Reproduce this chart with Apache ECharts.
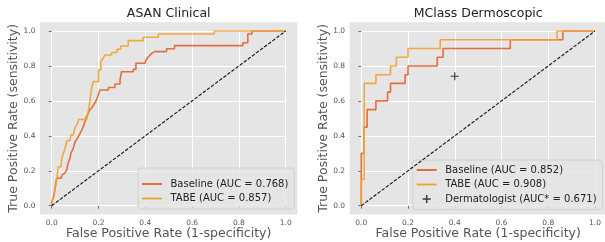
<!DOCTYPE html>
<html>
<head>
<meta charset="utf-8">
<script src="https://cdn.jsdelivr.net/npm/echarts@6/dist/echarts.min.js"></script>
<style>
html, body { margin: 0; padding: 0; background: #fff; }
#main { width: 605px; height: 242px; }
</style>
</head>
<body>
<div id="main"></div>
<script>
// ROC points (FPR, TPR)
var asanBaseline = [
  [0, 0], [0, 0.02], [0.008, 0.05], [0.011, 0.07], [0.015, 0.11], [0.021, 0.157], [0.04, 0.157],
  [0.045, 0.176], [0.055, 0.185], [0.064, 0.204], [0.07, 0.243], [0.078, 0.271], [0.082, 0.3],
  [0.092, 0.328], [0.1, 0.366], [0.114, 0.395], [0.125, 0.424], [0.135, 0.452], [0.142, 0.48],
  [0.148, 0.51], [0.157, 0.53], [0.163, 0.55], [0.172, 0.56], [0.178, 0.576], [0.188, 0.595],
  [0.196, 0.624], [0.206, 0.662], [0.242, 0.662], [0.242, 0.677], [0.27, 0.677], [0.27, 0.697],
  [0.292, 0.697], [0.292, 0.72], [0.298, 0.767], [0.349, 0.767], [0.349, 0.781], [0.36, 0.781],
  [0.36, 0.815], [0.399, 0.815], [0.403, 0.835], [0.412, 0.85], [0.42, 0.855], [0.427, 0.872],
  [0.441, 0.882], [0.491, 0.882], [0.491, 0.898], [0.525, 0.898], [0.525, 0.916], [0.817, 0.916],
  [0.817, 0.933], [0.838, 0.933], [0.838, 0.983], [0.856, 0.983], [0.856, 1.0], [1.0, 1.0]
];
var asanTabe = [
  [0, 0], [0, 0.02], [0.01, 0.06], [0.015, 0.1], [0.021, 0.147], [0.025, 0.19], [0.028, 0.223],
  [0.04, 0.223], [0.043, 0.271], [0.05, 0.3], [0.055, 0.319], [0.062, 0.33], [0.065, 0.372],
  [0.078, 0.372], [0.082, 0.405], [0.092, 0.405], [0.1, 0.449], [0.11, 0.47], [0.115, 0.494],
  [0.15, 0.494], [0.155, 0.53], [0.16, 0.57], [0.164, 0.605], [0.168, 0.65], [0.172, 0.681],
  [0.178, 0.71], [0.2, 0.71], [0.2, 0.777], [0.21, 0.777], [0.21, 0.824], [0.218, 0.835],
  [0.228, 0.863], [0.256, 0.863], [0.256, 0.877], [0.278, 0.877], [0.28, 0.895], [0.295, 0.895],
  [0.295, 0.914], [0.327, 0.914], [0.327, 0.945], [0.391, 0.945], [0.391, 0.964], [0.456, 0.964],
  [0.456, 0.983], [0.695, 0.983], [0.695, 1.0], [1.0, 1.0]
];
var mclassBaseline = [
  [0, 0], [0, 0.3], [0.0125, 0.3], [0.0125, 0.45], [0.025, 0.45], [0.025, 0.55], [0.0625, 0.55],
  [0.0625, 0.6], [0.1125, 0.6], [0.1125, 0.65], [0.125, 0.65], [0.125, 0.7], [0.1875, 0.7],
  [0.1875, 0.75], [0.2, 0.75], [0.2, 0.8], [0.325, 0.8], [0.325, 0.85], [0.35, 0.85], [0.35, 0.9],
  [0.6375, 0.9], [0.6375, 0.95], [0.8625, 0.95], [0.8625, 1], [1, 1]
];
var mclassTabe = [
  [0, 0], [0, 0.15], [0.0125, 0.15], [0.0125, 0.7], [0.0625, 0.7], [0.0625, 0.75], [0.125, 0.75],
  [0.125, 0.8], [0.15, 0.8], [0.15, 0.85], [0.2, 0.85], [0.2, 0.9], [0.3375, 0.9], [0.3375, 0.95],
  [0.8375, 0.95], [0.8375, 1], [1, 1]
];
var dermatologist = [[0.4, 0.741]];
var chance = [[0, 0], [1, 1]];

var titles = ['ASAN Clinical', 'MClass Dermoscopic'];
var namesAsan = ['Baseline (AUC = 0.768)', 'TABE (AUC = 0.857)'];
var namesMclass = ['Baseline (AUC = 0.852)', 'TABE (AUC = 0.908)', 'Dermatologist (AUC* = 0.671)'];
var xTitle = 'False Positive Rate (1-specificity)';
var yTitle = 'True Positive Rate (sensitivity)';

var colBase = '#e2612b';
var colTabe = '#f1a22c';
var font = 'DejaVu Sans';

// plot boxes: value 0..1 region, background padded by 5%
var grids = [
  { left: 51.7, top: 31, width: 234, height: 174.7 },
  { left: 361.3, top: 31, width: 233.7, height: 174.7 }
];
var yNameX = [13.6, 323.6];

var lineIcon = 'path://M0,0M20,12M0,5.1h20v1.8h-20z';
var plusIcon = 'path://M0,0M20,12M6,5.25h8v1.5h-8zM9.25,2h1.5v8h-1.5z';
var plusSymbol = 'path://M0,4.25h10v1.5h-10zM4.25,0h1.5v10h-1.5z';

function labelFmt(v) { return v.toFixed(1); }

function xAxis(i) {
  var g = grids[i];
  return {
    type: 'value', gridIndex: i, min: 0, max: 1, interval: 0.2,
    offset: g.height * 0.05,
    axisLine: { show: false },
    axisTick: { show: true, length: 3, lineStyle: { color: '#555', width: 0.8 } },
    axisLabel: { fontSize: 7.5, color: '#555', margin: 4.5, formatter: labelFmt },
    splitLine: { show: true, lineStyle: { color: '#fff', width: 1 } }
  };
}
function yAxis(i) {
  var g = grids[i];
  return {
    type: 'value', gridIndex: i, min: 0, max: 1, interval: 0.2,
    offset: g.width * 0.05,
    axisLine: { show: false },
    axisTick: { show: true, length: 3, lineStyle: { color: '#555', width: 0.8 } },
    axisLabel: { fontSize: 7.5, color: '#555', margin: 4.5, formatter: labelFmt },
    splitLine: { show: true, lineStyle: { color: '#fff', width: 1 } }
  };
}

function rocLine(name, data, color, i) {
  return {
    name: name, type: 'line', xAxisIndex: i, yAxisIndex: i, data: data,
    symbol: 'none', color: color, z: 3,
    lineStyle: { width: 1.6, color: color, opacity: 0.9 }
  };
}
function chanceLine(i) {
  return {
    type: 'line', xAxisIndex: i, yAxisIndex: i, data: chance, symbol: 'none', z: 4,
    lineStyle: { width: 1.1, color: '#111', type: [3.5, 1.6] }
  };
}

function legend(names, left, top, pad) {
  return {
    orient: 'vertical', left: left, top: top, selectedMode: false,
    data: names.map(function (n) { return { name: n, icon: n.indexOf('Derm') === 0 ? plusIcon : lineIcon }; }),
    itemWidth: 20, itemHeight: 12, itemGap: 2.5,
    padding: pad,
    backgroundColor: 'rgba(229,229,229,0.8)', borderColor: '#cccccc', borderWidth: 0.8, borderRadius: 3,
    textStyle: { fontSize: 10, color: '#222', padding: [0, 0, 0, 3.5] }
  };
}

var graphics = [];
grids.forEach(function (g, i) {
  graphics.push({
    type: 'rect', z: -10, silent: true,
    shape: { x: g.left - g.width * 0.05, y: g.top - g.height * 0.05, width: g.width * 1.1, height: g.height * 1.1 },
    style: { fill: '#e5e5e5' }
  });
  graphics.push({
    type: 'text', z: 10, silent: true,
    x: g.left + g.width / 2, y: 13.5,
    style: { text: titles[i], align: 'center', verticalAlign: 'middle', font: '12.5px "' + font + '"', fill: '#222' }
  });
  graphics.push({
    type: 'text', z: 10, silent: true,
    x: g.left + g.width / 2, y: 233.5,
    style: { text: xTitle, align: 'center', verticalAlign: 'middle', font: '12.5px "' + font + '"', fill: '#555' }
  });
  graphics.push({
    type: 'text', z: 10, silent: true,
    x: yNameX[i], y: g.top + g.height / 2, rotation: Math.PI / 2,
    style: { text: yTitle, align: 'center', verticalAlign: 'middle', font: '12.5px "' + font + '"', fill: '#555' }
  });
});

var chart = echarts.init(document.getElementById('main'), null, { renderer: 'canvas' });
chart.setOption({
  animation: false,
  textStyle: { fontFamily: font },
  grid: grids.map(function (g) { return { left: g.left, top: g.top, width: g.width, height: g.height }; }),
  xAxis: [xAxis(0), xAxis(1)],
  yAxis: [yAxis(0), yAxis(1)],
  graphic: graphics,
  legend: [
    legend(namesAsan, 138, 168, [10, 6, 4.5, 4]),
    legend(namesMclass, 412.7, 160, [4, 6, 4.5, 4])
  ],
  series: [
    rocLine(namesAsan[0], asanBaseline, colBase, 0),
    rocLine(namesAsan[1], asanTabe, colTabe, 0),
    chanceLine(0),
    rocLine(namesMclass[0], mclassBaseline, colBase, 1),
    rocLine(namesMclass[1], mclassTabe, colTabe, 1),
    chanceLine(1),
    {
      name: namesMclass[2], type: 'scatter', xAxisIndex: 1, yAxisIndex: 1, data: dermatologist,
      symbol: plusSymbol, symbolSize: 8, color: '#111', z: 5
    }
  ]
});
</script>
</body>
</html>
